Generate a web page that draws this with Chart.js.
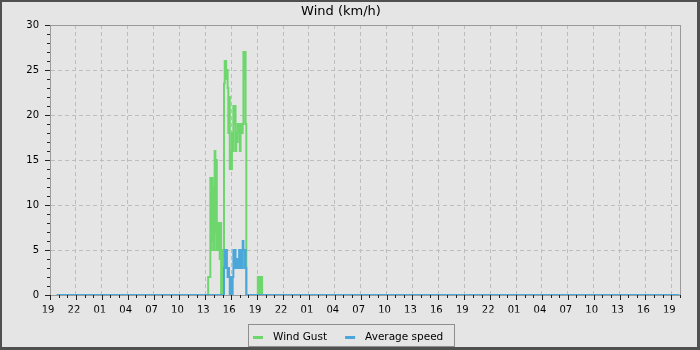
<!DOCTYPE html>
<html lang="en">
<head>
    <meta charset="UTF-8">
    <title>Wind (km/h)</title>
    <style>
        html, body {
            margin: 0;
            padding: 0;
            background-color: #e5e5e5;
        }
        .container {
            width: 700px;
            height: 350px;
        }
    </style>
</head>
<body>
    <div class="container">
        <canvas id="windChart" width="700" height="350"></canvas>
    </div>
    <script src="https://cdn.jsdelivr.net/npm/chart.js"></script>
    <script>
        // x axis: hours since 19:00 on the first day, one tick per hour, label every 3 h
        const hourTickLabels = ['19', '22', '01', '04', '07', '10', '13', '16',
                                '19', '22', '01', '04', '07', '10', '13', '16',
                                '19', '22', '01', '04', '07', '10', '13', '16', '19'];
        const axisEndHour = 73;

        // first and last sample of the period (calm at both ends)
        const firstHour = 0.78;
        const lastHour = 72.92;

        // the windy spell, 5 minute samples starting 13:20 on day 2
        const burstStart = 18.33;
        const stepHours = 5 / 60;
        const gustBurst = [2, 2, 2, 13, 5, 13, 6, 12, 5, 16, 7, 15, 5, 8, 5, 8, 4, 8, 0, 5, 0, 0,
                           23.5, 26, 26, 24, 25, 23, 18, 22, 14, 16, 14, 18, 16, 21, 19, 21, 16, 18,
                           17, 19, 18, 19, 16, 19, 19, 18, 19, 27, 24, 27, 19, 0];
        const avgBurst = [0, 0, 0, 0, 0, 0, 0, 0, 0, 0, 0, 0, 0, 0, 0, 0, 0, 0, 0, 0, 0, 0,
                          3, 5, 3, 5, 3, 2, 3, 2, 0, 2, 0, 0, 2, 5, 3, 5, 4, 3,
                          4, 3, 3, 5, 3, 5, 3, 5, 6, 5, 3, 5, 3, 0];

        // short gust around 19:05 on day 2
        const gustBurst2Start = 24.08;
        const gustBurst2 = [2, 0, 2, 0, 2, 2, 0];

        function toPoints(start, values) {
            return values.map((v, i) => ({ x: start + i * stepHours, y: v }));
        }

        const gustData = [{ x: firstHour, y: 0 }]
            .concat(toPoints(burstStart, gustBurst))
            .concat(toPoints(gustBurst2Start, gustBurst2))
            .concat([{ x: lastHour, y: 0 }]);
        const avgData = [{ x: firstHour, y: 0 }]
            .concat(toPoints(burstStart, avgBurst))
            .concat([{ x: lastHour, y: 0 }]);

        Chart.defaults.font.family = 'DejaVu Sans';
        Chart.defaults.color = '#000';

        // background, plot frame, tick marks, outer border, boxed legend
        const decor = {
            id: 'decor',
            beforeDraw(chart) {
                const ctx = chart.ctx;
                ctx.save();
                ctx.fillStyle = '#e5e5e5';
                ctx.fillRect(0, 0, chart.width, chart.height);
                ctx.restore();
            },
            beforeDatasetsDraw(chart) {
                const { ctx, chartArea: a, scales: { x, y } } = chart;
                ctx.save();
                ctx.strokeStyle = '#9a9a9a';
                ctx.lineWidth = 1;
                ctx.strokeRect(Math.round(a.left) + 0.5, Math.round(a.top) + 0.5,
                    Math.round(a.right - a.left), Math.round(a.bottom - a.top));
                ctx.strokeStyle = '#222';
                ctx.beginPath();
                for (let h = 0; h <= axisEndHour; h++) {
                    const px = Math.round(x.getPixelForValue(h)) + 0.5;
                    const len = h % 3 === 0 ? 5 : 3;
                    ctx.moveTo(px, a.bottom);
                    ctx.lineTo(px, a.bottom + len);
                }
                for (let v = 0; v <= 30; v++) {
                    const py = Math.round(y.getPixelForValue(v)) + 0.5;
                    const len = v % 5 === 0 ? 5 : 3;
                    ctx.moveTo(a.left - len, py);
                    ctx.lineTo(a.left, py);
                }
                ctx.stroke();
                ctx.restore();
            },
            afterDraw(chart) {
                const ctx = chart.ctx;
                ctx.save();

                // legend: short line marker + label, all inside a thin box
                ctx.font = '10.5px "DejaVu Sans"';
                ctx.textBaseline = 'middle';
                const midY = 337;
                let cx = 253;
                chart.data.datasets.forEach((ds, i) => {
                    ctx.fillStyle = ds.borderColor;
                    ctx.fillRect(cx, midY - 1, 10, 3);
                    ctx.fillStyle = '#000';
                    ctx.fillText(ds.label, cx + 20, midY);
                    cx += 20 + ctx.measureText(ds.label).width;
                    if (i < chart.data.datasets.length - 1) cx += 18;
                });
                ctx.strokeStyle = '#8e8e8e';
                ctx.lineWidth = 1;
                ctx.strokeRect(248.5, 324.5, Math.round(cx + 11 - 248), 22);

                ctx.fillStyle = '#505050';
                ctx.fillRect(0, 0, chart.width, 2);
                ctx.fillRect(0, 0, 2, chart.height);
                ctx.fillRect(chart.width - 3, 0, 3, chart.height);
                ctx.fillRect(0, chart.height - 3, chart.width, 3);
                ctx.restore();
            }
        };

        const ctx = document.getElementById('windChart').getContext('2d');

        new Chart(ctx, {
            type: 'line',
            data: {
                datasets: [
                    {
                        label: 'Wind Gust',
                        data: gustData,
                        borderColor: '#6dd66d',
                        backgroundColor: '#6dd66d',
                        borderWidth: 2,
                        stepped: 'before',
                        pointRadius: 0,
                        fill: false,
                        order: 2
                    },
                    {
                        label: 'Average speed',
                        data: avgData,
                        borderColor: '#4ba6d9',
                        backgroundColor: '#4ba6d9',
                        borderWidth: 2,
                        stepped: 'before',
                        pointRadius: 0,
                        fill: false,
                        order: 1
                    }
                ]
            },
            options: {
                responsive: false,
                animation: false,
                layout: { padding: { left: 2, right: 20, top: 0, bottom: 37.5 } },
                plugins: {
                    title: {
                        display: true,
                        text: 'Wind (km/h)',
                        color: '#000',
                        font: { size: 13, weight: 'normal' },
                        padding: { top: 4, bottom: 5.4 }
                    },
                    legend: { display: false },
                    tooltip: { enabled: false }
                },
                scales: {
                    x: {
                        type: 'linear',
                        min: 0,
                        max: axisEndHour,
                        afterFit: (scale) => { scale.height = 17.5; },
                        ticks: {
                            stepSize: 1,
                            autoSkip: false,
                            maxRotation: 0,
                            padding: 4,
                            labelOffset: -2,
                            font: { size: 10 },
                            callback: (v) => (v % 3 === 0 ? hourTickLabels[v / 3] : '')
                        },
                        grid: {
                            drawTicks: true,
                            tickLength: 5,
                            tickColor: 'transparent',
                            color: (c) => (c.tick && c.tick.value % 3 === 0 && c.tick.value > 0 && c.tick.value < axisEndHour ? '#bdbdbd' : 'transparent')
                        },
                        border: { color: '#9a9a9a', dash: [4, 3] }
                    },
                    y: {
                        min: 0,
                        max: 30,
                        afterFit: (scale) => { scale.width = 48; },
                        ticks: {
                            stepSize: 1,
                            autoSkip: false,
                            padding: 6,
                            font: { size: 10 },
                            callback: (v) => (v % 5 === 0 ? String(v) : '')
                        },
                        grid: {
                            drawTicks: true,
                            tickLength: 5,
                            tickColor: 'transparent',
                            color: (c) => (c.tick && c.tick.value % 5 === 0 && c.tick.value > 0 && c.tick.value < 30 ? '#bdbdbd' : 'transparent')
                        },
                        border: { color: '#9a9a9a', dash: [4, 3] }
                    }
                }
            },
            plugins: [decor]
        });
    </script>
</body>
</html>
